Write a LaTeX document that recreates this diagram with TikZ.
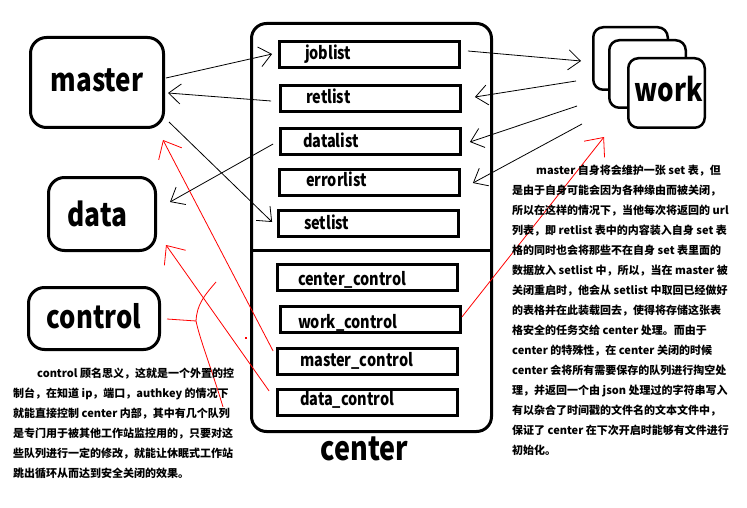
\documentclass[tikz,border=0pt]{standalone}
\usepackage{fontspec}
\setmainfont{Noto Sans CJK SC}
\usepackage{graphicx}
\usetikzlibrary{arrows.meta,calc}
\newcommand\tallt[1]{\scalebox{1}[1.22]{#1}}
\newcommand\boxlabel[2]{\makebox[174pt][l]{\hspace*{#1pt}\tallt{#2}}}
\begin{document}
\begin{tikzpicture}[x=1pt,y=-1pt,
  bigbox/.style={draw, line width=3pt, rounded corners=16pt, inner sep=0pt, text depth=0pt, fill=white},
  lst/.style={draw, line width=2.8pt, minimum width=180pt, minimum height=26pt, inner xsep=0pt, inner ysep=0pt, text depth=0pt, font=\bfseries\fontsize{14.5pt}{16pt}\selectfont},
  wbox/.style={draw, line width=2.5pt, rounded corners=10pt, fill=white, inner sep=0pt, text depth=0pt},
  blk/.style={line width=0.8pt, -{Straight Barb[length=12pt,width=20pt]}},
  rd/.style={red, line width=0.8pt, -{Straight Barb[length=15pt,width=26pt]}},
  para/.style={align=left, inner sep=0pt, font=\bfseries\fontsize{11pt}{20pt}\selectfont}
]
\useasboundingbox (0,0) rectangle (747,508);
\fill[white] (0,0) rectangle (747,508);

% left boxes
\node[bigbox, minimum width=133pt, minimum height=90pt, text height=18.4pt, font=\bfseries\fontsize{26pt}{26pt}\selectfont] (master) at (97,82.5) {\tallt{master}};
\node[bigbox, minimum width=107pt, minimum height=73pt, text height=25pt, font=\bfseries\fontsize{26.3pt}{26pt}\selectfont] (data) at (102,214) {\tallt{data}\hspace*{9pt}};
\node[bigbox, minimum width=131pt, minimum height=62pt, text height=19.6pt, font=\bfseries\fontsize{25.7pt}{26pt}\selectfont] (control) at (94,318.5) {\tallt{control}};

% center box
\node[draw, line width=3pt, rounded corners=15pt, minimum width=240pt, minimum height=408pt, inner sep=0pt] (cbox) at (371.5,227.5) {};
\coordinate (divy) at (0,250);
\draw[line width=3pt] (cbox.west |- divy) -- (cbox.east |- divy);
\node[font=\bfseries\fontsize{27pt}{27pt}\selectfont, anchor=base, inner sep=0pt] (clabel) at (364.5,460) {\tallt{center}};

\node[lst, text height=9.6pt]  (jl) at (369.5,54.5)  {\boxlabel{22.5}{joblist}};
\node[lst, text height=9.6pt]  (rl) at (370.5,98.5)  {\boxlabel{22.5}{retlist}};
\node[lst, text height=12.4pt] (dl) at (370.5,141.5) {\boxlabel{19.5}{datalist}};
\node[lst, text height=8.4pt]  (el) at (369.5,182.5) {\boxlabel{23.5}{errorlist}};
\node[lst, text height=11.6pt] (sl) at (368.5,223.5) {\boxlabel{22.5}{setlist}};
\node[lst, text height=15pt]   (cc) at (367.5,277.5) {\boxlabel{17.5}{center\_control}};
\node[lst, text height=17.6pt] (wc) at (370.5,319.5) {\boxlabel{14.5}{work\_control}};
\node[lst, text height=10.4pt] (mc) at (367.5,361.5) {\boxlabel{19.5}{master\_control}};
\node[lst, text height=6.4pt]  (dc) at (367.5,402.5) {\boxlabel{19.5}{data\_control}};

% work stack
\node[wbox, minimum width=74.5pt, minimum height=62.5pt] (work3) at (630.5,58.5) {};
\node[wbox, minimum width=76.5pt, minimum height=67.5pt] (work2) at (647.5,74) {};
\node[wbox, minimum width=76.5pt, minimum height=69.5pt, text height=17.4pt, font=\bfseries\fontsize{26pt}{26pt}\selectfont] (work) at (666.5,93) {\hspace*{4pt}\tallt{work}};

% black arrows
\draw[blk] ($(master.east)+(1,-4.5)$) -- ($(jl.west)+(-6,-0.5)$);
\draw[blk] ($(rl.west)+(-8,2.5)$) -- ($(master.east)+(3,10.5)$);
\draw[blk] ($(master.east)+(4,39.5)$) -- ($(sl.west)+(-5,-1.5)$);
\draw[blk] ($(dl.west)+(-6,2.5)$) -- ($(data.east)+(13,-12)$);
\draw[blk] ($(jl.east)+(7,-3.5)$) -- ($(work.west)+(-46,-32)$);
\draw[blk] ($(work.west)+(-51,-12)$) -- ($(rl.east)+(13,-1.5)$);
\draw[blk] ($(work.west)+(-50,13)$) -- ($(dl.east)+(8,0.5)$);
\draw[blk] ($(work.west)+(-45,31)$) -- ($(el.east)+(12,0.5)$);

% red arrows
\draw[rd] ($(mc.west)+(-3,-10.5)$) -- ($(master.south)+(66,11)$);
\draw[rd] ($(dc.west)+(-7,-11.5)$) -- ($(data.east)+(9,31)$);
\draw[rd] ($(wc.east)+(0,-2.5)$) -- ($(work.south)+(-62.5,8)$);
\coordinate (fork) at (196,321);
\coordinate (forkup) at (216,282);
\coordinate (forkdn) at (223,407);
\draw[red, line width=0.8pt] ($(control.east)+(6,0.5)$) -- (fork) .. controls (197,305) and (203,297) .. (forkup);
\draw[red, line width=0.8pt] (fork) .. controls (200,340) and (212,370) .. (forkdn);
\fill[red] (245,337) rectangle (246.5,338.5);

% paragraphs
\node[para, anchor=north west] (rtext) at (512,164.5) {%
\hspace*{24pt}master 自身将会维护一张 set 表，但\\
是由于自身可能会因为各种缘由而被关闭，\\
所以在这样的情况下，当他每次将返回的 url\\
列表，即 retlist 表中的内容装入自身 set 表\\
格的同时也会将那些不在自身 set 表里面的\\
数据放入 setlist 中，所以，当在 master 被\\
关闭重启时，他会从 setlist 中取回已经做好\\
的表格并在此装载回去，使得将存储这张表\\
格安全的任务交给 center 处理。而由于\\
center 的特殊性，在 center 关闭的时候\\
center 会将所有需要保存的队列进行掏空处\\
理，并返回一个由 json 处理过的字符串写入\\
有以杂合了时间戳的文件名的文本文件中，\\
保证了 center 在下次开启时能够有文件进行\\
初始化。};

\node[para, anchor=north west] (ltext) at (13,367.5) {%
\hspace*{24pt}control 顾名思义，这就是一个外置的控\\
制台，在知道 ip，端口，authkey 的情况下\\
就能直接控制 center 内部，其中有几个队列\\
是专门用于被其他工作站监控用的，只要对这\\
些队列进行一定的修改，就能让休眠式工作站\\
跳出循环从而达到安全关闭的效果。};
\end{tikzpicture}
\end{document}
